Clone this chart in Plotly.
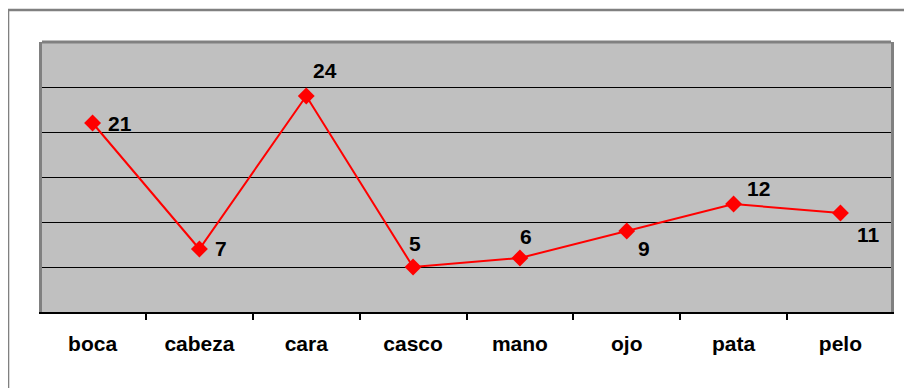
import plotly.graph_objects as go

# categorias y valores
palabras = ["boca", "cabeza", "cara", "casco", "mano", "ojo", "pata", "pelo"]
valores = [21, 7, 24, 5, 6, 9, 12, 11]

# desplazamiento de cada etiqueta (px), como en el grafico original
label_dx = [27, 22, 19, 2, 6, 17, 25, 28]
label_dy = [0, 1, 26, 24, 22, -17, 16, -21]

fuente = dict(family="Arial, Liberation Sans, sans-serif", size=21, color="black", weight="bold")

fig = go.Figure()

fig.add_trace(go.Scatter(
    x=palabras,
    y=valores,
    mode="lines+markers",
    line=dict(color="#FF0000", width=2),
    marker=dict(symbol="diamond", size=13, color="#FF0000"),
    hoverinfo="x+y",
))

for p, v, dx, dy in zip(palabras, valores, label_dx, label_dy):
    fig.add_annotation(
        x=p, y=v, text=str(v), showarrow=False,
        xanchor="center", yanchor="middle",
        xshift=dx, yshift=dy,
        font=fuente,
    )

fig.update_xaxes(
    type="category",
    tickson="boundaries",
    ticks="outside", ticklen=6, tickwidth=2, tickcolor="black",
    showline=True, linecolor="black", linewidth=2,
    showgrid=False,
    ticklabelstandoff=12,
    tickfont=fuente,
)

fig.update_yaxes(
    range=[0, 30], dtick=5,
    showticklabels=False,
    showgrid=True, gridcolor="#000000", gridwidth=1,
    zeroline=False,
    showline=True, linecolor="#808080", linewidth=3, mirror=True,
)

# borde superior del area de trazado
fig.add_shape(type="line", xref="paper", yref="paper", x0=0, x1=1, y0=1, y1=1,
              line=dict(color="#808080", width=3))
# marco exterior del grafico
fig.add_shape(type="rect", xref="paper", yref="paper",
              x0=-0.04, x1=1.1, y0=-0.5, y1=1.1185,
              line=dict(color="#808080", width=2.5), layer="below")

# la pagina tiene 8px de margen, se reduce la figura para compensar
fig.update_layout(
    width=904, height=380,
    margin=dict(l=34, r=21, t=34, b=76),
    plot_bgcolor="#C0C0C0",
    paper_bgcolor="white",
    showlegend=False,
)

fig.write_html("out.html")
